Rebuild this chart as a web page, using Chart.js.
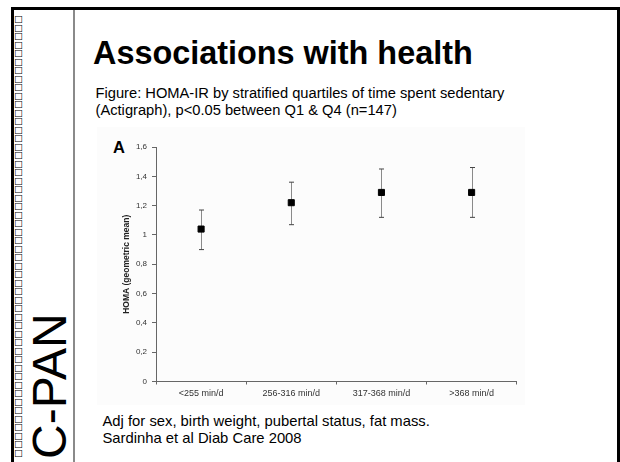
<!DOCTYPE html>
<html>
<head>
<meta charset="utf-8">
<script src="https://cdn.jsdelivr.net/npm/chart.js@4.4.1/dist/chart.umd.min.js"></script>
<style>
  body { margin: 0; width: 620px; height: 462px; overflow: hidden; position: relative; background: #fff; font-family: "Liberation Sans", Arial, sans-serif; color: #000; }
  .abs { position: absolute; }
  #boxes { left: 14px; top: 15px; font: 9.3px "DejaVu Sans"; line-height: 8.5px; color: #000; }
  #cpan { left: 26px; top: 459px; font-size: 48px; line-height: 48px; white-space: nowrap; transform-origin: left top; transform: rotate(-90deg); }
  #title { left: 93px; top: 36.6px; font-size: 32.4px; font-weight: bold; line-height: 1; white-space: nowrap; }
  #subtitle { left: 95.5px; top: 84.6px; font-size: 14.7px; line-height: 17.3px; white-space: nowrap; }
  #footer { left: 102.5px; top: 413px; font-size: 14.8px; line-height: 17px; white-space: nowrap; }
  #panel { left: 113px; top: 139.3px; font-size: 16.5px; font-weight: bold; line-height: 1; }
  #plotbg { left: 97px; top: 127px; width: 428px; height: 278px; background: #fcfcfc; }
  #wrap { left: 97px; top: 128px; width: 425px; height: 278px; }
</style>
</head>
<body>
<div class="abs" style="left:11px;top:7px;width:609px;height:3px;background:#000"></div>
<div class="abs" style="left:11px;top:7px;width:3px;height:455px;background:#000"></div>
<div class="abs" style="left:617px;top:7px;width:3px;height:455px;background:#000"></div>
<div class="abs" style="left:73px;top:10px;width:2px;height:452px;background:#8a8a8a"></div>
<div id="boxes" class="abs"></div>
<div id="cpan" class="abs">C-PAN</div>
<div id="title" class="abs">Associations with health</div>
<div id="subtitle" class="abs">Figure: HOMA-IR by stratified quartiles of time spent sedentary<br>(Actigraph), p&lt;0.05 between Q1 &amp; Q4 (n=147)</div>
<div id="plotbg" class="abs"></div>
<div id="panel" class="abs">A</div>
<div id="wrap" class="abs"><canvas id="chart"></canvas></div>
<div id="footer" class="abs">Adj for sex, birth weight, pubertal status, fat mass.<br>Sardinha et al Diab Care 2008</div>

<script>
// quartiles of sedentary time
const categories = ["<255 min/d", "256-316 min/d", "317-368 min/d", ">368 min/d"];
// HOMA geometric mean with 95% CI
const homaMean = [1.04, 1.22, 1.29, 1.29];
const ciUpper = [1.17, 1.36, 1.45, 1.46];
const ciLower = [0.90, 1.07, 1.12, 1.12];
const yMin = 0;
const yMax = 1.6;
const yStep = 0.2;

document.getElementById("boxes").innerHTML = Array(52).fill("\u25A1").join("<br>");

// error bars, drawn under the squares
const errorBars = {
  id: "errorBars",
  beforeDatasetsDraw(chart) {
    const { ctx, scales: { y } } = chart;
    const meta = chart.getDatasetMeta(0);
    ctx.save();
    meta.data.forEach((pt, i) => {
      const top = y.getPixelForValue(ciUpper[i]);
      const bot = y.getPixelForValue(ciLower[i]);
      const x = Math.round(pt.x) + 0.5;
      ctx.strokeStyle = "#8a8a8a";
      ctx.lineWidth = 1;
      ctx.beginPath();
      ctx.moveTo(x, top);
      ctx.lineTo(x, bot);
      ctx.stroke();
      ctx.strokeStyle = "#444";
      ctx.beginPath();
      ctx.moveTo(x - 2.5, top);
      ctx.lineTo(x + 2.5, top);
      ctx.moveTo(x - 2.5, bot);
      ctx.lineTo(x + 2.5, bot);
      ctx.stroke();
    });
    ctx.restore();
  }
};

new Chart(document.getElementById("chart").getContext("2d"), {
  type: "line",
  data: {
    labels: categories,
    datasets: [{
      data: homaMean,
      showLine: false,
      pointStyle: "rect",
      pointRadius: 4.3,
      pointBorderWidth: 1,
      pointBackgroundColor: "#000",
      pointBorderColor: "#000"
    }]
  },
  options: {
    responsive: true,
    maintainAspectRatio: false,
    animation: false,
    layout: { padding: { top: 19, right: 4, left: 0, bottom: 0 } },
    plugins: { legend: { display: false }, tooltip: { enabled: false } },
    scales: {
      x: {
        offset: true,
        grid: { offset: true, drawOnChartArea: false, tickLength: 3, color: "#666" },
        border: { color: "#666" },
        ticks: { padding: 4, color: "#333", font: { size: 9, family: "Liberation Sans" } },
        afterFit: s => { s.height = 24.5; }
      },
      y: {
        min: yMin,
        max: yMax,
        grid: { drawOnChartArea: false, tickLength: 4, color: "#666" },
        border: { color: "#666" },
        ticks: {
          stepSize: yStep,
          padding: 5,
          color: "#333",
          font: { size: 8, family: "Liberation Sans" },
          callback: v => {
            const r = Math.round(v * 10) / 10;
            return Number.isInteger(r) ? String(r) : r.toFixed(1).replace(".", ",");
          }
        },
        title: {
          display: true,
          text: "HOMA (geometric mean)",
          color: "#222",
          font: { size: 8.5, weight: "bold", family: "Liberation Sans" },
          padding: { top: 25, bottom: 0 }
        },
        afterFit: s => { s.width = 59; }
      }
    }
  },
  plugins: [errorBars]
});
</script>
</body>
</html>
